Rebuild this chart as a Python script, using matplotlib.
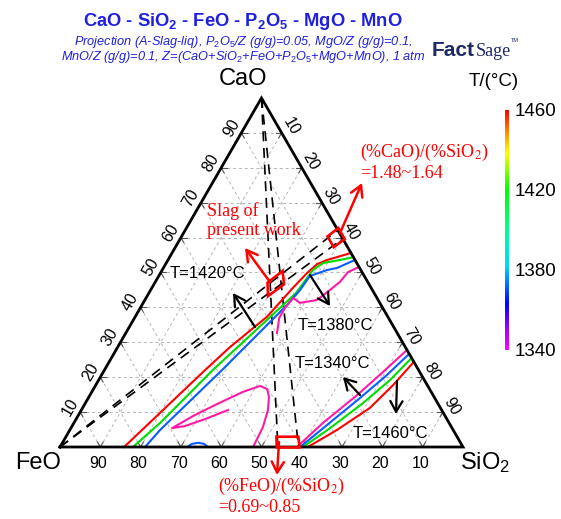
import numpy as np
import matplotlib
matplotlib.use("Agg")
import matplotlib.pyplot as plt
from matplotlib.patches import FancyArrowPatch, Polygon
from matplotlib.colors import LinearSegmentedColormap

# ---------------------------------------------------------------------------
# Liquidus isotherms, compositions in wt% (CaO, SiO2); FeO = 100 - CaO - SiO2
# ---------------------------------------------------------------------------
# CaO-rich side (left branch, runs from FeO-SiO2 edge up to CaO-SiO2 edge)
iso1460_a_cao = [0.0, 9.7, 22.1, 28.7, 37.3, 45.6, 49.9, 52.4, 53.6, 54.4, 55.6]
iso1460_a_sio2 = [15.9, 19.9, 25.0, 27.9, 32.7, 35.0, 36.4, 37.6, 39.5, 41.5, 44.4]

iso1420_a_cao = [0.0, 6.9, 22.1, 44.1, 50.7, 52.7, 53.6, 54.4]
iso1420_a_sio2 = [18.1, 21.4, 26.9, 36.5, 37.4, 38.9, 42.7, 45.6]

iso1380_a_cao = [0.0, 4.9, 22.1, 40.7, 45.0, 49.0, 50.7, 51.3, 53.6]
iso1380_a_sio2 = [21.1, 22.4, 29.2, 36.0, 37.1, 37.5, 40.9, 43.1, 46.4]

iso1340_a_cao = [51.6, 50.1, 47.3, 45.0, 42.1, 41.3, 42.7, 39.8, 37.0, 32.7]
iso1340_a_sio2 = [48.4, 46.4, 45.8, 44.5, 42.7, 38.9, 36.5, 35.9, 35.9, 37.5]

# 1340 C closed tongue near the FeO-SiO2 edge
iso1340_b_cao = [0.0, 2.9, 5.7, 10.6, 14.3, 16.6, 17.5, 15.8, 12.3, 8.9, 5.4, 6.0, 8.0, 10.6]
iso1340_b_sio2 = [47.9, 47.7, 47.5, 46.3, 44.7, 43.1, 40.9, 37.5, 32.8, 28.6, 25.1, 28.0, 32.0, 36.4]

# 1380 C small pocket on the FeO-SiO2 edge
iso1380_b_cao = [0.0, 0.9, 1.2, 0.9, 0.0]
iso1380_b_sio2 = [31.5, 32.3, 33.7, 35.3, 36.7]

# SiO2-rich side (right branch)
iso1340_c_cao = [0.0, 6.9, 14.9, 21.5, 27.8]
iso1340_c_sio2 = [58.8, 61.8, 66.3, 69.4, 72.2]
iso1380_c_cao = [0.0, 6.3, 14.0, 20.6, 26.7]
iso1380_c_sio2 = [59.6, 63.1, 67.4, 70.8, 73.3]
iso1420_c_cao = [0.0, 5.4, 12.6, 19.2, 25.5]
iso1420_c_sio2 = [60.3, 64.3, 68.9, 72.3, 74.5]
iso1460_c_cao = [0.0, 4.9, 11.2, 17.8, 24.4]
iso1460_c_sio2 = [61.5, 66.3, 71.3, 73.8, 75.6]

# Composition ranges of the studied slag
basicity_range = [1.48, 1.64]      # (%CaO)/(%SiO2)
feo_sio2_range = [0.69, 0.85]      # (%FeO)/(%SiO2)

grid_values = [10, 20, 30, 40, 50, 60, 70, 80, 90]
cbar_ticks = [1340, 1380, 1420, 1460]

# ---------------------------------------------------------------------------
plt.rcParams["font.family"] = ["Liberation Sans", "DejaVu Sans"]
plt.rcParams["mathtext.fontset"] = "custom"
plt.rcParams["mathtext.rm"] = "Liberation Sans"
plt.rcParams["mathtext.it"] = "Liberation Sans:italic"
plt.rcParams["mathtext.bf"] = "Liberation Sans:bold"

W, H, DPI = 561, 519, 100
fig = plt.figure(figsize=(W / DPI, H / DPI), dpi=DPI)
ax = fig.add_axes([0, 0, 1, 1])
K = 4.03          # pixels per wt%
OX, OY = 60, 447  # pixel position of the FeO corner
ax.set_xlim(-OX / K, (W - OX) / K)
ax.set_ylim((OY - H) / K, OY / K)
ax.axis("off")

S3 = np.sqrt(3) / 2


def tern(cao, sio2):
    cao = np.asarray(cao, float)
    sio2 = np.asarray(sio2, float)
    return sio2 + cao / 2, cao * S3


def P(px, py):
    """Figure pixel -> data coordinates (for annotation placement)."""
    return ((px - OX) / K, (OY - py) / K)


def F(px, py):
    return px / W, 1 - py / H


# grid
gcol = "#b4b4b4"
for v in grid_values:
    for (c0, s0), (c1, s1) in [((v, 0), (v, 100 - v)),
                               ((0, v), (100 - v, v)),
                               ((0, 100 - v), (100 - v, 0))]:
        x, y = tern([c0, c1], [s0, s1])
        ax.plot(x, y, color=gcol, lw=0.7, ls=(0, (3, 3)), zorder=1)

# small ticks along the edges
tl = 1.4
for v in grid_values:
    for (c, s), dirs in [((0, 100 - v), [(1, -1), (1, 0)]),
                         ((v, 0), [(0, 1), (-1, 1)]),
                         ((100 - v, v), [(-1, 0), (0, -1)])]:
        for dc, ds in dirs:
            x, y = tern([c, c + dc * tl], [s, s + ds * tl])
            ax.plot(x, y, color="#555555", lw=0.8, zorder=2)

# triangle outline
x, y = tern([0, 0, 100, 0], [0, 100, 0, 0])
ax.plot(x, y, color="black", lw=2.0, solid_joinstyle="miter", zorder=5)

# tick labels
for v in grid_values:
    x, y = tern(0, 100 - v)
    ax.annotate(str(v), (x, y), xytext=(-2, -16), textcoords="offset pixels",
                ha="center", va="center", fontsize=11.5)
    x, y = tern(v, 0)
    ax.annotate(str(v), (x, y), xytext=(-10, 5), textcoords="offset pixels",
                ha="center", va="center", fontsize=11.5, rotation=60)
    x, y = tern(100 - v, v)
    ax.annotate(str(v), (x, y), xytext=(9, 6), textcoords="offset pixels",
                ha="center", va="center", fontsize=11.5, rotation=-60)

# isotherms
c1460, c1420, c1380, c1340 = "#ff0000", "#00dd00", "#0a5cff", "#ff1aa6"
for cao, sio2, col in [
    (iso1460_a_cao, iso1460_a_sio2, c1460), (iso1420_a_cao, iso1420_a_sio2, c1420),
    (iso1380_a_cao, iso1380_a_sio2, c1380), (iso1340_a_cao, iso1340_a_sio2, c1340),
    (iso1340_b_cao, iso1340_b_sio2, c1340), (iso1380_b_cao, iso1380_b_sio2, c1380),
    (iso1340_c_cao, iso1340_c_sio2, c1340), (iso1380_c_cao, iso1380_c_sio2, c1380),
    (iso1420_c_cao, iso1420_c_sio2, c1420), (iso1460_c_cao, iso1460_c_sio2, c1460)]:
    x, y = tern(cao, sio2)
    ax.plot(x, y, color=col, lw=1.5, zorder=4)

# constant-ratio lines through the FeO and CaO corners
dash = (0, (6, 4))
for r in basicity_range:
    sio2_edge = 100 / (1 + r)
    x, y = tern([0, 100 - sio2_edge], [0, sio2_edge])
    ax.plot(x, y, color="black", lw=1.2, ls=dash, zorder=3)
for q in feo_sio2_range:
    sio2_base = 100 / (1 + q)
    x, y = tern([100, 0], [0, sio2_base])
    ax.plot(x, y, color="black", lw=1.2, ls=dash, zorder=3)


def red_box(corners_cs, scale=1.25):
    pts = np.array([tern(c, s) for c, s in corners_cs])
    ctr = pts.mean(axis=0)
    pts = ctr + (pts - ctr) * scale
    ax.add_patch(Polygon(pts, closed=True, fill=False, ec="red", lw=1.9, zorder=6))


def cs_from_ratios(r, q):
    s = 100 / (1 + r + q)
    return r * s, s


# studied slag: intersection of both ratio bands
red_box([cs_from_ratios(basicity_range[0], feo_sio2_range[0]),
         cs_from_ratios(basicity_range[1], feo_sio2_range[0]),
         cs_from_ratios(basicity_range[1], feo_sio2_range[1]),
         cs_from_ratios(basicity_range[0], feo_sio2_range[1])], scale=1.5)
# basicity band at the CaO-SiO2 edge
fe_hi = 3.0
red_box([cs_from_ratios(basicity_range[0], 0),
         cs_from_ratios(basicity_range[1], 0),
         ((100 - fe_hi) * basicity_range[1] / (1 + basicity_range[1]),
          (100 - fe_hi) / (1 + basicity_range[1])),
         ((100 - fe_hi) * basicity_range[0] / (1 + basicity_range[0]),
          (100 - fe_hi) / (1 + basicity_range[0]))], scale=1.3)
# FeO/SiO2 band at the FeO-SiO2 edge
ca_hi = 2.8
red_box([(0, 100 / (1 + feo_sio2_range[0])),
         (0, 100 / (1 + feo_sio2_range[1])),
         (ca_hi, (100 - ca_hi) / (1 + feo_sio2_range[1])),
         (ca_hi, (100 - ca_hi) / (1 + feo_sio2_range[0]))], scale=1.1)


def arrow(p0, p1, color, lw):
    ax.add_patch(FancyArrowPatch(P(*p0), P(*p1),
                                 arrowstyle="->,head_length=0.7,head_width=0.4",
                                 mutation_scale=11, color=color, lw=lw,
                                 shrinkA=0, shrinkB=0, zorder=7))


# red pointers
arrow((340, 233), (362, 183), "red", 1.8)
arrow((270, 282), (245, 248), "red", 1.8)
arrow((279, 442), (277, 475), "red", 1.8)
# black pointers toward the liquid side of each isotherm
arrow((255, 327), (233, 293), "black", 1.6)
arrow((310, 275), (330, 306), "black", 1.6)
arrow((360, 395), (343, 377), "black", 1.6)
arrow((397, 381), (396, 414), "black", 1.6)

# isotherm labels
for txt, (px, py) in [("T=1420\u00b0C", (170, 273)), ("T=1380\u00b0C", (298, 325)),
                      ("T=1340\u00b0C", (295, 363)), ("T=1460\u00b0C", (353, 433))]:
    ax.text(*P(px, py), txt, ha="left", va="center", fontsize=12, zorder=8)

# red notes
serif = dict(family="Liberation Serif", color="red", fontsize=13,
             math_fontfamily="stix", ha="left", va="center", zorder=8)
ax.text(*P(207, 221), "Slag of\npresent work", linespacing=1.15, **serif)
ax.text(*P(360, 152), "(%CaO)/(%SiO$_2$)", **serif)
ax.text(*P(360, 174), "=%.2f~%.2f" % tuple(basicity_range), **serif)
ax.text(*P(218, 486), "(%FeO)/(%SiO$_2$)", **serif)
ax.text(*P(218, 508), "=%.2f~%.2f" % tuple(feo_sio2_range), **serif)

# corner labels
ax.text(*P(243, 79), "CaO", ha="center", va="center", fontsize=17)
ax.text(*P(38, 463), "FeO", ha="center", va="center", fontsize=17)
ax.text(*P(460, 463), "SiO$_2$", ha="left", va="center", fontsize=17)

# title block
blue = "#1f1fe0"
fig.text(*F(243, 22), r"CaO - SiO$_\mathbf{2}$ - FeO - P$_\mathbf{2}$O$_\mathbf{5}$ - MgO - MnO",
         ha="center", va="center", fontsize=13.2, weight="bold", color=blue)
fig.text(*F(243, 42), "Projection (A-Slag-liq), P$_2$O$_5$/Z (g/g)=0.05, MgO/Z (g/g)=0.1,",
         ha="center", va="center", fontsize=9.2, style="italic", color=blue)
fig.text(*F(243, 57), "MnO/Z (g/g)=0.1, Z=(CaO+SiO$_2$+FeO+P$_2$O$_5$+MgO+MnO), 1 atm",
         ha="center", va="center", fontsize=9.2, style="italic", color=blue)

# program logo
navy = "#1c2a66"
fig.text(*F(432, 50), "Fact", ha="left", va="center", fontsize=15, weight="heavy",
         color=navy, family="Liberation Sans")
fig.text(*F(476, 51), "Sage", ha="left", va="center", fontsize=13, color=navy,
         family="Liberation Serif")
fig.text(*F(511, 41), "TM", ha="left", va="center", fontsize=4, color=navy)

# colour scale
cmap = LinearSegmentedColormap.from_list("liq", [
    (0.0, "#ff00ff"), (0.09, "#9a00ff"), (0.19, "#0000ff"), (0.35, "#00d8ff"),
    (0.5, "#00ff90"), (0.67, "#00ff00"), (0.82, "#ffff00"), (0.9, "#ff9a00"),
    (1.0, "#ff0000")])
cax = fig.add_axes([505 / W, 1 - 350 / H, 4 / W, 240 / H])
grad = np.linspace(cbar_ticks[0], cbar_ticks[-1], 256).reshape(-1, 1)
cax.imshow(grad, aspect="auto", cmap=cmap, origin="lower",
           extent=[0, 1, cbar_ticks[0], cbar_ticks[-1]])
cax.set_xticks([])
cax.set_yticks(cbar_ticks)
cax.yaxis.tick_right()
cax.tick_params(axis="y", length=0, pad=4, labelsize=13.5)
for sp in cax.spines.values():
    sp.set_visible(False)
fig.text(*F(494, 82), "T/(\u00b0C)", ha="center", va="center", fontsize=13.5)

fig.savefig("out.png", dpi=DPI)
